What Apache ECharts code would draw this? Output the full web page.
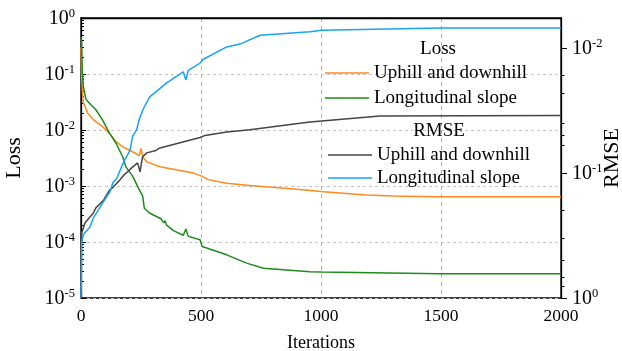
<!DOCTYPE html>
<html>
<head>
<meta charset="utf-8">
<script src="https://cdn.jsdelivr.net/npm/echarts@6/dist/echarts.min.js"></script>
<style>html,body{margin:0;padding:0;background:#fff}#c{width:622px;height:351px}</style>
</head>
<body>
<div id="c"></div>
<script>
// Values (iteration, value)
const lossUphill = [[0,0.30],[3,0.08],[6,0.045],[10,0.031],[28,0.020],[54,0.015],[90,0.0115],[118,0.0087],[146,0.0062],[174,0.0050],[201,0.0044],[229,0.0038],[243,0.0035],[250,0.0047],[257,0.0033],[274,0.0027],[329,0.0022],[468,0.0017],[503,0.0015],[530,0.0013],[607,0.00112],[704,0.00102],[912,0.00087],[1010,0.00079],[1190,0.00069],[1300,0.00066],[1467,0.00064],[2000,0.00064]];
const lossLongitudinal = [[0,0.45],[2,0.40],[5,0.12],[10,0.059],[21,0.035],[42,0.028],[62,0.023],[90,0.015],[118,0.0089],[146,0.0058],[174,0.0033],[187,0.0022],[215,0.0015],[243,0.00085],[257,0.00066],[264,0.00040],[285,0.00033],[333,0.00026],[345,0.00022],[350,0.00024],[357,0.0002],[385,0.00016],[426,0.000132],[437,0.00017],[447,0.000126],[496,0.00011],[505,0.000083],[607,0.000059],[690,0.000042],[760,0.000034],[954,0.0000295],[1003,0.000029],[1496,0.000027],[2000,0.000027]];
const rmseUphill = [[0,0.36],[3,0.30],[17,0.25],[51,0.21],[62,0.19],[93,0.166],[118,0.138],[135,0.129],[160,0.115],[176,0.105],[201,0.095],[211,0.091],[236,0.083],[243,0.085],[246,0.098],[253,0.081],[257,0.074],[274,0.069],[312,0.066],[329,0.063],[496,0.052],[517,0.050],[607,0.047],[704,0.045],[912,0.040],[954,0.039],[1246,0.035],[2000,0.0347]];
const rmseLongitudinal = [[0,1.0],[2,0.6],[3,0.36],[10,0.31],[37,0.27],[51,0.23],[90,0.174],[121,0.141],[132,0.12],[149,0.11],[176,0.083],[204,0.066],[215,0.051],[232,0.045],[243,0.037],[253,0.033],[264,0.0295],[287,0.0245],[312,0.0224],[343,0.020],[357,0.019],[426,0.0155],[437,0.018],[447,0.0151],[496,0.0132],[510,0.0123],[607,0.0098],[662,0.0093],[746,0.0079],[954,0.0074],[1003,0.0072],[1496,0.0069],[2000,0.0069]];

const xTicks = [0, 500, 1000, 1500, 2000];
const lossRange = [1e-5, 1];            // left axis (log)
const rmseRange = [0.00575, 1];         // right axis (log, inverted)
const rmseMajor = [0.01, 0.1, 1];
const rmseMinor = [0.0165, 0.023, 0.04, 0.05, 0.06, 0.2, 0.33, 0.5, 0.68, 0.8];
const legendTitles = ['Loss', 'RMSE'];

const lg = v => Math.log10(v);
const toLog = arr => arr.map(p => [p[0], lg(p[1])]);
const FONT = '"Liberation Serif", "DejaVu Serif", serif';

const lossMinor = [];
for (let n = -5; n < 0; n++) for (let k = 2; k <= 9; k++) lossMinor.push(n + lg(k));

const supFmt = v => '{b|10}{s|' + Math.round(v) + '}';
const rich = {
  b: {fontSize: 20, fontFamily: FONT, color: '#000', lineHeight: 22, verticalAlign: 'bottom'},
  s: {fontSize: 12.5, fontFamily: FONT, color: '#000', verticalAlign: 'top', lineHeight: 22}
};

const lMin = lg(lossRange[0]), lMax = lg(lossRange[1]);
const rMin = lg(rmseRange[0]), rMax = lg(rmseRange[1]);
const hiddenLine = {show: true, lineStyle: {color: 'rgba(0,0,0,0)', width: 0}};

const chart = echarts.init(document.getElementById('c'));
chart.setOption({
  animation: false,
  backgroundColor: '#fff',
  grid: {left: 81, right: 61, top: 18, bottom: 53, containLabel: false, outerBoundsMode: 'none',
         show: true, borderColor: '#000', borderWidth: 1.3, backgroundColor: 'transparent'},
  title: [
    {text: legendTitles[0], left: 438, top: 40, textAlign: 'center', padding: 0,
     textStyle: {fontFamily: FONT, fontSize: 19, fontWeight: 'normal', color: '#000'}},
    {text: legendTitles[1], left: 439, top: 122, textAlign: 'center', padding: 0,
     textStyle: {fontFamily: FONT, fontSize: 19, fontWeight: 'normal', color: '#000'}}
  ],
  legend: [
    {data: ['Loss: Uphill and downhill', 'Loss: Longitudinal slope'], orient: 'vertical', left: 325, top: 63, padding: 0,
     itemWidth: 44, itemHeight: 1.6, icon: 'rect', itemGap: 5, formatter: n => n.split(': ')[1],
     textStyle: {fontFamily: FONT, fontSize: 19, color: '#000', lineHeight: 20}},
    {data: ['RMSE: Uphill and downhill', 'RMSE: Longitudinal slope'], orient: 'vertical', left: 328, top: 145, padding: 0,
     itemWidth: 44, itemHeight: 1.6, icon: 'rect', itemGap: 3, formatter: n => n.split(': ')[1],
     textStyle: {fontFamily: FONT, fontSize: 19, color: '#000', lineHeight: 20}}
  ],
  xAxis: {
    type: 'value', min: xTicks[0], max: xTicks[xTicks.length - 1], interval: 500,
    name: 'Iterations', nameLocation: 'middle', nameGap: 36, nameMoveOverlap: false,
    nameTextStyle: {fontFamily: FONT, fontSize: 18, color: '#000'},
    axisLine: {show: true, lineStyle: {color: '#000', width: 1.3}},
    axisTick: {show: false},
    axisLabel: {fontFamily: FONT, fontSize: 17.5, color: '#000', margin: 9, formatter: v => String(v)},
    splitLine: {show: true, lineStyle: {color: '#b0b0b0', type: [4, 4], width: 1}}
  },
  yAxis: [
    {type: 'value', position: 'left', min: lMin, max: lMax, interval: 1,
     name: 'Loss', nameLocation: 'middle', nameRotate: 90, nameGap: 56, nameMoveOverlap: false,
     nameTextStyle: {fontFamily: FONT, fontSize: 22, color: '#000'},
     axisLine: {show: true, lineStyle: {color: '#000', width: 1.3}},
     axisTick: {show: true, inside: true, length: 5, lineStyle: {color: '#000', width: 1}},
     axisLabel: {formatter: supFmt, rich: rich, margin: 6},
     splitLine: {show: true, lineStyle: {color: '#c4c4c4', type: [3, 3], width: 1}}},
    {type: 'value', position: 'left', offset: 0, min: lMin, max: lMax,
     axisLine: hiddenLine,
     axisTick: {show: true, inside: true, length: 3, customValues: lossMinor, lineStyle: {color: '#000', width: 1}},
     axisLabel: {show: false}, splitLine: {show: false}},
    {type: 'value', position: 'right', min: rMin, max: rMax, inverse: true,
     name: 'RMSE', nameLocation: 'middle', nameRotate: 90, nameGap: 40, nameMoveOverlap: false,
     nameTextStyle: {fontFamily: FONT, fontSize: 22, color: '#000'},
     axisLine: {show: true, lineStyle: {color: '#000', width: 1.3}},
     axisTick: {show: true, inside: false, length: 6, customValues: rmseMajor.map(lg), lineStyle: {color: '#000', width: 1}},
     axisLabel: {customValues: rmseMajor.map(lg), formatter: supFmt, rich: rich, margin: 11},
     splitLine: {show: false}},
    {type: 'value', position: 'right', offset: 0, min: rMin, max: rMax, inverse: true,
     axisLine: hiddenLine,
     axisTick: {show: true, inside: false, length: 3.5, customValues: rmseMinor.map(lg), lineStyle: {color: '#000', width: 1}},
     axisLabel: {show: false}, splitLine: {show: false}}
  ],
  series: [
    {name: 'Loss: Uphill and downhill', type: 'line', yAxisIndex: 0, data: toLog(lossUphill), showSymbol: false, color: '#ff8a1e', lineStyle: {width: 1.5}, z: 3},
    {name: 'Loss: Longitudinal slope', type: 'line', yAxisIndex: 0, data: toLog(lossLongitudinal), showSymbol: false, color: '#1c8c1c', lineStyle: {width: 1.5}, z: 3},
    {name: 'RMSE: Uphill and downhill', type: 'line', yAxisIndex: 2, data: toLog(rmseUphill), showSymbol: false, color: '#454545', lineStyle: {width: 1.5}, z: 3},
    {name: 'RMSE: Longitudinal slope', type: 'line', yAxisIndex: 2, data: toLog(rmseLongitudinal), showSymbol: false, color: '#1aa3f5', lineStyle: {width: 1.5}, z: 3}
  ]
});
</script>
</body>
</html>
